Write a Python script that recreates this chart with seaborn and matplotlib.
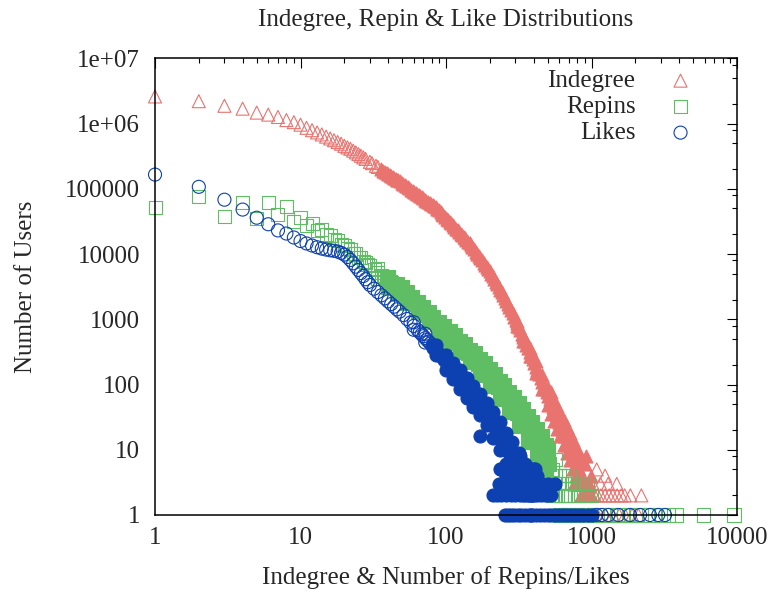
import numpy as np
import pandas as pd
import matplotlib
matplotlib.use('Agg')
import matplotlib.pyplot as plt
import matplotlib.ticker as mticker
import seaborn as sns


#  values (degree -> number of users)

#  indegree: main trend
indeg_x = [1, 2, 3, 4, 5, 6, 7, 8, 9, 10,
           11, 12, 13, 14, 15, 16, 17, 18, 19, 20,
           21, 22, 23, 24, 25, 26, 27, 28, 30, 31,
           33, 34, 36, 38, 40, 42, 44, 46, 48, 51,
           53, 56, 59, 62, 65, 68, 72, 75, 79, 83,
           87, 92, 96, 101, 106, 111, 117, 123, 129, 135,
           142, 149, 156, 164, 172, 181, 190, 199, 209, 220,
           231, 242, 254, 267, 280, 294, 309, 324, 340, 357,
           375, 394, 414, 435, 457, 480, 504, 529, 555, 583,
           612, 643, 675, 709, 744, 781, 820, 861, 904, 949, 997]
indeg_n = [2600000, 2200000, 1870000, 1690000, 1470000, 1370000, 1260000, 1130000, 1050000, 960000,
           860000, 790000, 730000, 680000, 630000, 590000, 555000, 520000, 490000, 455000,
           431000, 410000, 384000, 361000, 340000, 321000, 303000, 287000, 259000, 247000,
           225000, 216000, 198000, 183000, 170000, 158000, 148000, 138000, 130000, 118000,
           111000, 101000, 93300, 86200, 80000, 74300, 67800, 63500, 58500, 54000,
           49700, 43500, 39300, 34800, 31000, 27800, 24500, 21800, 19500, 17500,
           15500, 13600, 11800, 10100, 8680, 7400, 6350, 5500, 4560, 3750,
           3120, 2610, 2140, 1700, 1370, 1100, 869, 678, 526, 408,
           315, 243, 187, 144, 111, 86, 67, 52, 40, 31,
           24, 18, 14, 11, 9, 7, 5, 4, 3, 2, 2]
#  indegree: in-between degrees of the band
indeg_mid_x = [37, 39, 41, 43, 45, 47, 50, 52, 55, 57, 60, 63, 66, 70, 73, 77, 81, 85, 90, 94,
               98, 103, 108, 114, 120, 126, 132, 138, 145, 152, 160, 168, 176, 185, 195, 204, 214, 225, 236, 248,
               260, 273, 287, 301, 316, 332, 348, 366, 384, 404, 424, 446, 468, 492, 516, 542, 569, 597, 627, 659,
               692, 726, 762, 800, 840, 882, 926, 973]
indeg_mid_n = [190000, 176000, 164000, 153000, 143000, 134000, 124000, 114000, 106000, 97000,
               89700, 83000, 77100, 71000, 65600, 61000, 56200, 51800, 46500, 41300,
               37000, 32800, 29400, 26100, 23100, 20600, 18500, 16500, 14500, 12700,
               10900, 9360, 8010, 6860, 5910, 5010, 4140, 3420, 2850, 2360,
               1910, 1530, 1230, 978, 768, 597, 463, 358, 277, 213,
               164, 126, 98, 76, 59, 46, 35, 27, 21, 16,
               12, 10, 8, 6, 4, 3, 3, 2]
#  indegree: scatter around the tail
indeg_spread_x = [309, 340, 375, 414, 457, 504, 555, 612, 675, 744, 820, 904, 997,
                  309, 340, 375, 414, 457, 504, 555, 612, 675, 744, 820, 904, 997,
                  530, 583, 643, 709, 781, 861, 530, 583, 643, 709, 781, 861,
                  920, 1085, 1240, 1490, 1690, 2200,
                  840, 880, 1050, 1100, 1160, 1240, 1320, 1400, 1500, 1600, 1850,
                  760, 800, 960, 1020, 1150, 1300,
                  1100, 1250, 1400, 1550, 1700, 1900, 2100]
indeg_spread_n = [950, 580, 360, 230, 140, 88, 56, 35, 22, 14, 9, 6, 4,
                  790, 470, 270, 150, 85, 49, 28, 16, 9, 5, 3, 2, 1,
                  78, 47, 29, 18, 11, 7, 35, 21, 12, 7, 4, 3,
                  8, 5, 4, 3, 2, 2,
                  2, 2, 2, 2, 2, 2, 2, 2, 2, 2, 2,
                  3, 3, 3, 3, 3, 3,
                  1, 1, 1, 1, 1, 1, 1]

#  repins: main trend
repin_x = [1, 2, 3, 4, 5, 6, 7, 8, 9, 10,
           11, 12, 13, 14, 15, 16, 17, 18, 19, 20,
           21, 22, 23, 24, 25, 26, 27, 28, 29, 30,
           32, 34, 36, 38, 40, 42, 44, 46, 48, 51,
           54, 57, 60, 64, 68, 72, 76, 80, 85, 90,
           95, 100, 106, 112, 118, 125, 132, 139, 146, 154,
           162, 171, 180, 190, 200, 211, 222, 234, 246, 259,
           272, 286, 300, 315, 331, 348, 365, 383, 402, 422,
           443, 465, 488, 512, 538, 565, 593, 623, 654, 687]
repin_n = [51000, 77000, 37000, 62000, 35000, 61000, 41000, 53000, 32000, 36000,
           27000, 29000, 23000, 24000, 20000, 19500, 16500, 16000, 13800, 13600,
           12000, 11700, 10300, 10000, 8900, 8700, 7800, 7500, 6800, 6600,
           5880, 5270, 4750, 4310, 3930, 3600, 3310, 3060, 2830, 2540,
           2260, 2020, 1820, 1590, 1410, 1250, 1120, 1010, 892, 793,
           710, 639, 567, 507, 455, 404, 361, 325, 294, 256,
           224, 195, 171, 148, 130, 113, 99, 86, 76, 64,
           55, 47, 40, 34, 29, 25, 21, 18, 16, 13,
           11, 9, 7, 6, 5, 4, 3, 3, 2, 2]
#  repins: in-between degrees of the band (trend, then upper edge)
repin_mid_x = [37, 39, 41, 43, 45, 47, 50, 52, 55, 58, 62, 66, 70, 74, 78, 82, 87, 92, 97, 103,
               109, 115, 121, 128, 135, 142, 150, 158, 166, 175, 185, 195, 205, 216, 228, 240, 252, 265, 279, 293,
               307, 323, 339, 356, 374, 392, 412, 432, 454, 476, 500,
               50, 58, 70, 82, 97, 115, 135, 158, 185, 216, 252, 293, 339, 392, 454, 500]
repin_mid_n = [4520, 4120, 3760, 3450, 3180, 2940, 2680, 2400, 2140, 1920, 1700, 1500, 1330, 1180, 1060, 949, 841, 750, 674, 602,
               536, 480, 429, 382, 343, 309, 274, 239, 209, 183, 159, 139, 121, 106, 92, 81, 70, 59, 51, 43,
               37, 31, 27, 23, 19, 17, 14, 12, 10, 8, 6,
               3100, 2200, 1530, 1100, 790, 570, 420, 300, 210, 145, 100, 65, 42, 27, 16, 10]
#  repins: scatter around the trend and the low-count rows
repin_spread_x = [34, 40, 46, 54, 64, 76, 90, 106, 125, 146, 171, 200, 234, 272, 315, 365, 422, 488, 565, 654,
                  34, 40, 46, 54, 64, 76, 90, 106, 125, 146, 171, 200, 234, 272, 315, 365, 422, 488, 565, 654,
                  600, 650, 700,
                  680, 740, 800, 870, 940,
                  540, 580, 620, 720, 760, 820, 880, 940, 1000,
                  600, 700, 800, 900, 1000, 1100, 1200, 1350, 1500, 1650, 1800, 2000, 2200, 2450,
                  2700, 3000, 3400, 3860, 5860, 9530]
repin_spread_n = [6050, 4500, 3500, 2600, 1830, 1290, 910, 650, 465, 340, 250, 170, 113, 78, 52, 33, 21, 12, 7, 4,
                  4200, 3150, 2450, 1800, 1270, 900, 630, 450, 310, 220, 140, 95, 60, 38, 23, 13, 8, 4, 2, 1,
                  4, 4, 4,
                  3, 3, 3, 3, 3,
                  2, 2, 2, 2, 2, 2, 2, 2, 2,
                  1, 1, 1, 1, 1, 1, 1, 1, 1, 1, 1, 1, 1, 1,
                  1, 1, 1, 1, 1, 1]

#  likes: main trend
like_x = [1, 2, 3, 4, 5, 6, 7, 8, 9, 10,
          11, 12, 13, 14, 15, 16, 17, 18, 19, 20,
          21, 22, 23, 24, 25, 26, 27, 28, 29, 30,
          32, 34, 36, 38, 40, 42, 44, 46, 48, 51,
          54, 57, 60, 64, 68, 72, 76, 80, 85, 90,
          95, 100, 106, 112, 118, 125, 132, 139, 146, 154,
          162, 171, 180, 190, 200, 211, 222, 234, 246, 259,
          272, 286, 300, 315, 331, 348, 365, 383, 402]
like_n = [165000, 107000, 68000, 48000, 36000, 28600, 23000, 20600, 17900, 15800,
          14500, 13500, 12700, 12100, 11700, 11400, 11200, 10900, 10400, 9800,
          9000, 8100, 7200, 6400, 5700, 5100, 4600, 4100, 3700, 3350,
          2940, 2610, 2330, 2090, 1880, 1710, 1560, 1420, 1310, 1160,
          1010, 892, 790, 679, 589, 514, 453, 401, 340, 292,
          252, 219, 188, 162, 140, 120, 104, 90, 79, 68,
          60, 52, 45, 38, 32, 25, 20, 16, 13, 11,
          9, 7, 6, 5, 4, 3, 3, 2, 2]
#  likes: in-between degrees of the band
like_mid_x = [66, 70, 74, 78, 82, 87, 92, 97, 103, 109, 115, 121, 128, 135, 142, 150, 158, 166, 175, 185,
              195, 205, 216, 228, 240, 252, 265, 279, 293, 307, 323, 339, 356, 374, 392]
like_mid_n = [632, 550, 483, 426, 369, 315, 271, 235, 203, 175, 151, 130, 112, 97, 84, 73, 64, 56, 48, 41,
              35, 28, 22, 18, 14, 12, 10, 8, 6, 5, 4, 4, 3, 2, 2]
#  likes: scatter around the trend and the low-count rows
like_spread_x = [60, 72, 85, 100, 112, 125, 139, 154, 171, 190, 211, 234, 259, 286, 315, 348, 383,
                 60, 72, 85, 100, 112, 125, 139, 154, 171, 190, 211, 234, 259, 286, 315, 348, 383,
                 171, 235, 323, 358, 377, 407, 420, 505, 560,
                 210, 225, 240, 260, 280, 300, 320, 340, 365, 390, 420, 450, 480, 530,
                 230, 260, 290, 320, 350, 380, 420, 460, 500,
                 260, 300, 340, 380, 410,
                 240, 280, 320, 360, 400,
                 254, 265, 280, 295, 310, 330, 350, 370, 390, 415, 440, 470, 500, 530, 560, 600, 640,
                 680, 720, 770, 820, 880, 940, 1000, 1080, 1175, 1306, 1529, 1840, 2155, 2522, 2876, 3200]
like_spread_n = [900, 600, 410, 280, 215, 165, 125, 95, 72, 52, 38, 27, 18, 13, 9, 6, 5,
                 690, 440, 280, 165, 120, 85, 62, 46, 34, 24, 15, 10, 6, 4, 3, 2, 1,
                 16, 5, 8, 5, 5, 5, 4, 2, 3,
                 2, 2, 2, 2, 2, 2, 2, 2, 2, 2, 2, 2, 2, 2,
                 3, 3, 3, 3, 3, 3, 3, 3, 3,
                 4, 4, 4, 4, 4,
                 5, 5, 5, 5, 5,
                 1, 1, 1, 1, 1, 1, 1, 1, 1, 1, 1, 1, 1, 1, 1, 1, 1,
                 1, 1, 1, 1, 1, 1, 1, 1, 1, 1, 1, 1, 1, 1, 1, 1]

x_ticks = [1, 10, 100, 1000, 10000]
x_labels = ['1', '10', '100', '1000', '10000']
y_ticks = [1, 10, 100, 1000, 10000, 100000, 1000000, 10000000]
y_labels = ['1', '10', '100', '1000', '10000', '100000', '1e+06', '1e+07']


indeg_df = pd.DataFrame({'deg': indeg_x + indeg_mid_x + indeg_spread_x,
                         'users': indeg_n + indeg_mid_n + indeg_spread_n})
repin_df = pd.DataFrame({'deg': repin_x + repin_mid_x + repin_spread_x,
                         'users': repin_n + repin_mid_n + repin_spread_n})
like_df = pd.DataFrame({'deg': like_x + like_mid_x + like_spread_x,
                        'users': like_n + like_mid_n + like_spread_n})


#%%
sns.set_style('white')
plt.rcParams['font.family'] = ['Liberation Serif', 'DejaVu Serif']
plt.rcParams['font.size'] = 18

fig = plt.figure(figsize=(7.72, 5.91), dpi=100)
ax = fig.add_axes([0.2008, 0.1286, 0.7539, 0.7728])

#  (data, marker, colour, label, range where the original markers pile up into a solid band)
series = [(indeg_df, '^', '#e8736f', 'Indegree', (36, 1000)),
          (repin_df, 's', '#5fbe64', 'Repins', (40, 520)),
          (like_df, 'o', '#0d40b0', 'Likes', (80, 1000))]
for df, mk, col, lab, (lo, hi) in series:
    dense = (df['deg'] >= lo) & (df['deg'] <= hi)
    #  isolated points: open markers
    sns.scatterplot(data=df[~dense], x='deg', y='users',
                    marker=mk, s=88,
                    facecolors='none', edgecolor=col, linewidth=0.8,
                    clip_on=False, label=lab, legend=False, ax=ax)
    #  overlapping points: markers overlap so densely that the band looks solid
    sns.scatterplot(data=df[dense], x='deg', y='users',
                    marker=mk, s=88,
                    facecolors=col, edgecolor=col, linewidth=0.8,
                    clip_on=False, legend=False, ax=ax)

ax.set_xscale('log')
ax.set_yscale('log')
ax.set_xlim(1, 10000)
ax.set_ylim(1, 1e7)
ax.set_xticks(x_ticks, x_labels)
ax.set_yticks(y_ticks, y_labels)
ax.xaxis.set_minor_locator(mticker.LogLocator(base=10, subs=[2, 3, 4, 5, 6, 7, 8, 9], numticks=20))
ax.yaxis.set_minor_locator(mticker.LogLocator(base=10, subs=[2, 5, 8], numticks=20))
ax.xaxis.set_minor_formatter(mticker.NullFormatter())
ax.yaxis.set_minor_formatter(mticker.NullFormatter())

ax.tick_params(which='both', direction='in', top=True, right=True, width=0.8, color='black', labelsize=18)
ax.tick_params(which='major', length=7.5)
ax.tick_params(which='minor', length=3.8)
ax.tick_params(axis='x', pad=9)
ax.tick_params(axis='y', pad=10.8)
for sp in ax.spines.values():
    sp.set_color('black')
    sp.set_linewidth(1.1)

ax.set_title('Indegree, Repin & Like Distributions', fontsize=18, pad=23.5)
ax.set_xlabel('Indegree & Number of Repins/Likes', fontsize=18)
ax.set_ylabel('Number of Users', fontsize=18)
ax.xaxis.set_label_coords(0.5, -0.112)
ax.yaxis.set_label_coords(-0.203, 0.5)

ax.legend(loc='upper right',
          bbox_to_anchor=(0.9244, 0.975),
          markerfirst=False,
          frameon=False,
          fontsize=18,
          handlelength=1.0,
          handletextpad=1.3,
          borderpad=0,
          borderaxespad=0,
          labelspacing=0.14)

plt.savefig('out.png', dpi=100)
